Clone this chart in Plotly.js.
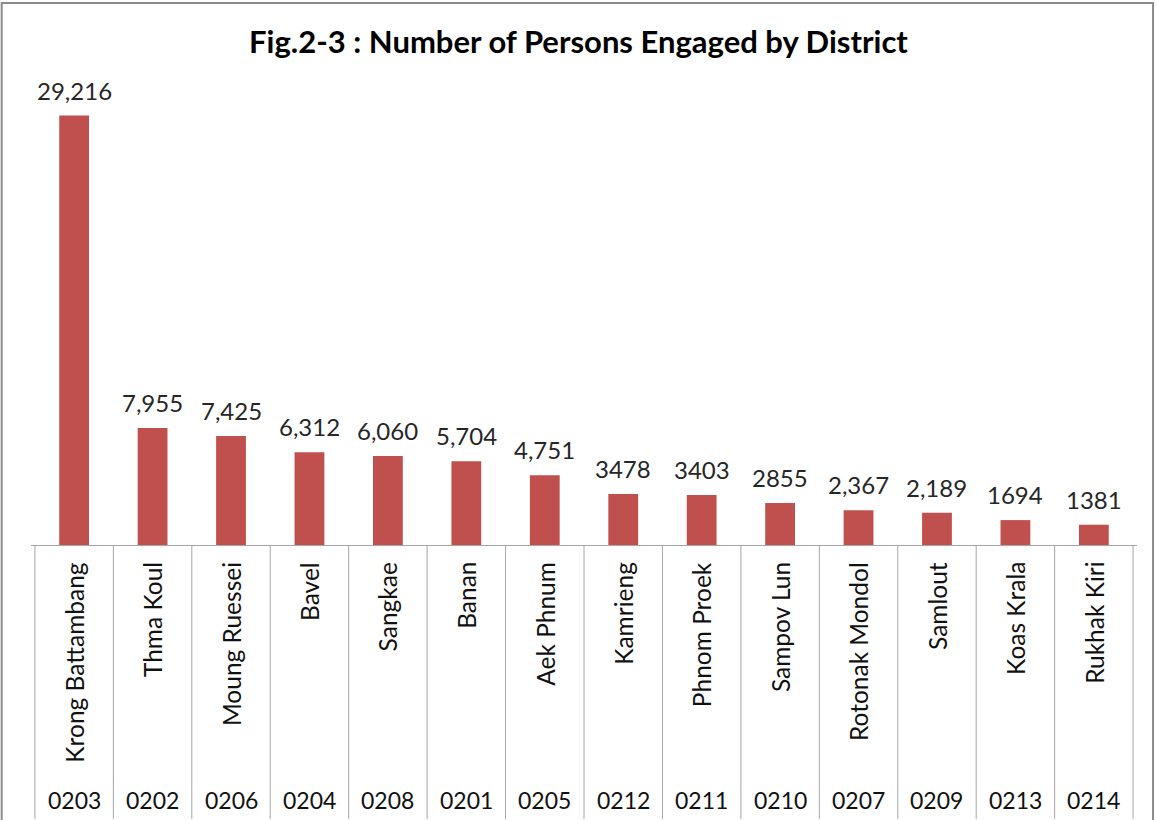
<!DOCTYPE html>
<html>
<head>
<meta charset="utf-8">
<script src="https://cdn.plot.ly/plotly-3.0.1.min.js"></script>
<style>
html,body{margin:0;padding:0;background:#fff;}
#chart{width:1157px;height:820px;}
</style>
</head>
<body>
<div id="chart"></div>
<script>
// ---- data ----
const districts = ["Krong Battambang","Thma Koul","Moung Ruessei","Bavel","Sangkae","Banan","Aek Phnum","Kamrieng","Phnom Proek","Sampov Lun","Rotonak Mondol","Samlout","Koas Krala","Rukhak Kiri"];
const codes = ["0203","0202","0206","0204","0208","0201","0205","0212","0211","0210","0207","0209","0213","0214"];
const persons = [29216,7955,7425,6312,6060,5704,4751,3478,3403,2855,2367,2189,1694,1381];
const valueLabels = ["29,216","7,955","7,425","6,312","6,060","5,704","4,751","3478","3403","2855","2,367","2,189","1694","1381"];
const titleText = "Fig.2-3 : Number of Persons Engaged by District";

// ---- build ----
const FONT = "Lato, 'Open Sans', sans-serif";
const idx = districts.map((d,i)=>i);

const trace = {
  type: "bar",
  x: idx,
  y: persons,
  width: 0.38,
  marker: {color: "#C0504D", line: {width: 0}},
  hoverinfo: "skip"
};

const annotations = [];
idx.forEach(i => {
  annotations.push({
    x: i, y: persons[i], xref: "x", yref: "y",
    text: valueLabels[i], showarrow: false,
    yanchor: "bottom", xanchor: "center", yshift: 9,
    font: {family: FONT, size: 24, color: "#262626"}
  });
  annotations.push({
    x: i, y: 0, xref: "x", yref: "paper",
    text: districts[i], showarrow: false, textangle: -90,
    yanchor: "top", xanchor: "center", yshift: -15,
    font: {family: FONT, size: 24.5, color: "#111"}
  });
  annotations.push({
    x: i, y: -0.526, xref: "x", yref: "paper",
    text: codes[i], showarrow: false,
    yanchor: "middle", xanchor: "center",
    font: {family: FONT, size: 23, color: "#111"}
  });
});

const shapes = [];
for (let k = 0; k <= districts.length; k++) {
  shapes.push({
    type: "line", xref: "x", yref: "paper",
    x0: k - 0.5, x1: k - 0.5, y0: 0, y1: -0.565,
    line: {color: "#A6A6A6", width: 1}
  });
}
// outer chart border
shapes.push({
  type: "rect", xref: "paper", yref: "paper",
  x0: -0.0265, x1: 1.0145, y0: -0.7, y1: 1.1175,
  line: {color: "#8C8C8C", width: 2}, fillcolor: "rgba(0,0,0,0)"
});

const layout = {
  width: 1157, height: 820,
  margin: {l: 31, r: 20, t: 60, b: 275},
  paper_bgcolor: "#fff", plot_bgcolor: "#fff",
  showlegend: false,
  title: {
    text: "<b>" + titleText + "</b>",
    x: 0.5, xref: "container", xanchor: "center",
    y: 1 - 42/820, yref: "container", yanchor: "middle",
    font: {family: FONT, size: 31, color: "#000"}
  },
  xaxis: {
    range: [-0.55, districts.length - 0.45],
    showticklabels: false, ticks: "", showgrid: false, zeroline: false,
    showline: true, linecolor: "#A6A6A6", linewidth: 1, fixedrange: true
  },
  yaxis: {
    range: [0, 33000], visible: false, showgrid: false, zeroline: false, fixedrange: true
  },
  annotations: annotations,
  shapes: shapes,
  font: {family: FONT}
};

Plotly.newPlot("chart", [trace], layout, {displayModeBar: false, staticPlot: true});
</script>
</body>
</html>
